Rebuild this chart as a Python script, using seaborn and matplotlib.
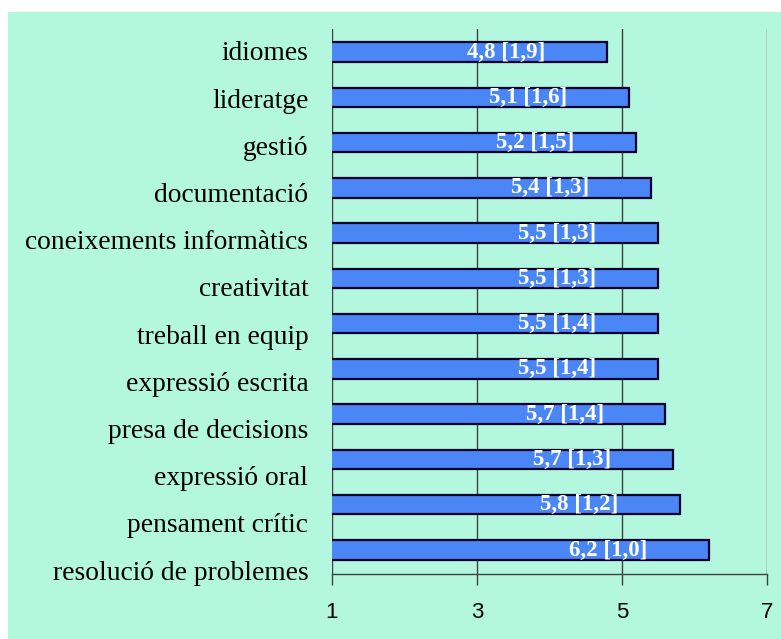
import matplotlib
matplotlib.use("Agg")
import matplotlib.pyplot as plt
import seaborn as sns
import pandas as pd

# dades: mitjana [desviacio] per competencia
competencies = ["idiomes", "lideratge", "gestió", "documentació",
                "coneixements informàtics", "creativitat", "treball en equip",
                "expressió escrita", "presa de decisions", "expressió oral",
                "pensament crític", "resolució de problemes"]
mitjanes = [4.8, 5.1, 5.2, 5.4, 5.5, 5.5, 5.5, 5.5, 5.6, 5.7, 5.8, 6.2]
etiquetes = ["4,8 [1,9]", "5,1 [1,6]", "5,2 [1,5]", "5,4 [1,3]", "5,5 [1,3]",
             "5,5 [1,3]", "5,5 [1,4]", "5,5 [1,4]", "5,7 [1,4]", "5,7 [1,3]",
             "5,8 [1,2]", "6,2 [1,0]"]
xticks = [1, 3, 5, 7]

df = pd.DataFrame({"competencia": competencies, "mitjana": mitjanes})

sns.set_style("white")
fons = "#b3f7de"
rect = [0.425, 0.1017, 0.557, 0.853]

fig = plt.figure(figsize=(7.81, 6.39), dpi=100, facecolor="white")
# franja blanca a dalt i a l'esquerra, com a l'original
fig.patches.append(plt.Rectangle((0.01, 0), 0.99, 0.982, transform=fig.transFigure,
                                 facecolor=fons, edgecolor="none", zorder=-10))
ax = fig.add_axes(rect)
ax.set_facecolor(fons)

sns.barplot(data=df, x="mitjana", y="competencia", orient="h", width=0.43,
            color="#4a86f6", saturation=1, edgecolor="#00002a", linewidth=1.6,
            ax=ax, zorder=3)

for i, (v, t) in enumerate(zip(mitjanes, etiquetes)):
    ax.text(v - 0.85, i, t, ha="right", va="center", color="white",
            fontsize=16.5, fontweight="bold", family="Liberation Serif", zorder=4)

ax.set_xlim(1, 7)
ax.set_ylim(11.53, -0.51)
ax.set_xticks(xticks)
ax.set_xticklabels([str(x) for x in xticks], family="Liberation Sans",
                   fontsize=16, color="black")
ax.tick_params(axis="x", bottom=True, length=8, width=1, color="#404040", pad=12)
ax.set_yticklabels([])
ax.tick_params(axis="y", length=0)

for x in xticks:
    ax.axvline(x, color="#404040", lw=1, zorder=1)

for s in ["top", "right", "left"]:
    ax.spines[s].set_visible(False)
ax.spines["bottom"].set_color("#404040")
ax.spines["bottom"].set_linewidth(1)
ax.set_xlabel("")
ax.set_ylabel("")

# a l'original les etiquetes no queden alineades amb les barres:
# es reparteixen una mica mes espaiades, en un eix a part
ax_lab = fig.add_axes(rect, frameon=False)
ax_lab.patch.set_visible(False)
ax_lab.set_ylim(11.085, -0.466)
ax_lab.set_yticks(range(len(competencies)))
ax_lab.set_yticklabels(competencies, family="Liberation Serif", fontsize=19.8,
                       color="black")
ax_lab.set_xticks([])
ax_lab.tick_params(axis="y", left=False, length=0, pad=17)

fig.savefig("out.png", dpi=100, facecolor=fig.get_facecolor())
